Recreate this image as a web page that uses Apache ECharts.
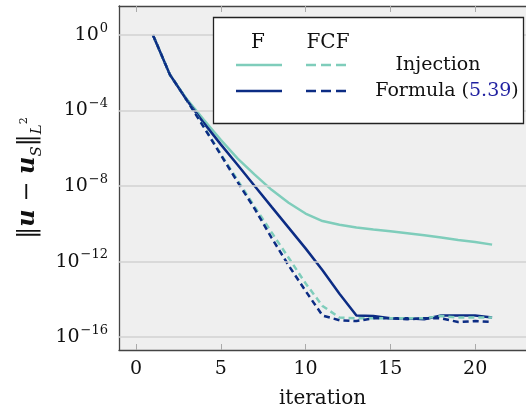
<!DOCTYPE html>
<html><head><meta charset="utf-8">
<script src="https://cdn.jsdelivr.net/npm/echarts@6/dist/echarts.min.js"></script>
<style>html,body{margin:0;padding:0;background:#fff}#c{width:526px;height:414px}</style>
</head><body><div id="c"></div>
<script>
const iterations = [1,2,3,4,5,6,7,8,9,10,11,12,13,14,15,16,17,18,19,20,21];
const injectionF   = [1,7.9e-3,4.0e-4,3.2e-5,2.8e-6,2.8e-7,4.0e-8,6.3e-9,1.3e-9,3.5e-10,1.4e-10,8.9e-11,6.3e-11,5.0e-11,4.0e-11,3.2e-11,2.5e-11,1.9e-11,1.4e-11,1.1e-11,7.9e-12];
const formulaF     = [1,7.9e-3,3.5e-4,2.2e-5,1.6e-6,1.3e-7,1.0e-8,7.9e-10,6.3e-11,5.0e-12,3.5e-13,2.0e-14,1.4e-15,1.3e-15,1.0e-15,1.0e-15,8.9e-16,1.4e-15,1.4e-15,1.4e-15,1.1e-15];
const injectionFCF = [1,7.9e-3,3.5e-4,1.4e-5,5.0e-7,2.0e-8,7.9e-10,3.5e-11,1.6e-12,7.1e-14,4.5e-15,1.1e-15,1.0e-15,1.0e-15,1.0e-15,1.0e-15,1.0e-15,1.3e-15,1.1e-15,1.1e-15,1.1e-15];
const formulaFCF   = [1,7.9e-3,3.5e-4,1.3e-5,4.5e-7,1.6e-8,6.3e-10,1.8e-11,6.3e-13,2.8e-14,1.4e-15,7.9e-16,7.1e-16,1.0e-15,1.0e-15,8.9e-16,1.0e-15,1.0e-15,6.3e-16,7.1e-16,6.3e-16];
const xTicks = [0,5,10,15,20];
const yTickExponents = [0,-4,-8,-12,-16];

const TEAL = '#7fcdbb', NAVY = '#0c2c84';
const FONT = 'DejaVu Serif';
const toPts = vals => iterations.map((x,i)=>[x, Math.log10(vals[i])]);

const chart = echarts.init(document.getElementById('c'), null, {renderer:'canvas'});
const baseX = {
  type:'value', min:-1, max:23,
  axisLine:{show:true, onZero:false, lineStyle:{color:'#444', width:1.3}},
  axisTick:{show:true, inside:true, length:6, customValues:xTicks, lineStyle:{color:'#aaa', width:1}},
  splitLine:{show:false}
};
const lineSeries = (name, vals, color, dashed) => ({
  name, type:'line', data: toPts(vals), showSymbol:false, symbol:'none', z:3,
  lineStyle:{color, width:2.5, type: dashed ? [6,4] : 'solid'}, animation:false
});
chart.setOption({
  animation:false,
  grid:{left:119, top:6, width:415.7, height:346, show:true, backgroundColor:'#efefef', borderWidth:0},
  xAxis:[
    Object.assign({}, baseX, {position:'bottom',
      axisLabel:{customValues:xTicks, margin:10, fontFamily:FONT, fontSize:19, color:'#111'},
      name:'iteration', nameLocation:'middle', nameGap:39,
      nameTextStyle:{fontFamily:FONT, fontSize:20, color:'#111'}}),
    Object.assign({}, baseX, {position:'top', axisLabel:{show:false}})
  ],
  yAxis:{
    type:'value', min:-16.68, max:1.53,
    axisLine:{show:true, onZero:false, lineStyle:{color:'#444', width:1.3}},
    axisTick:{show:false, customValues:yTickExponents},
    splitLine:{show:false},
    axisLabel:{customValues:yTickExponents, margin:11, color:'#111',
      formatter: v => '{b|10}{s|' + (v<0 ? '\u2212'+(-v) : v) + '}',
      rich:{ b:{fontFamily:FONT, fontSize:19, lineHeight:26, color:'#111'},
             s:{fontFamily:FONT, fontSize:13, lineHeight:26, verticalAlign:'top', padding:[0,0,8,1], color:'#111'} }},
    name:'{n|\u2016}{u|u}{n| \u2212 }{u|u}{sub|S}{n|\u2016}{sub|L}{sup|2}',
    nameLocation:'middle', nameGap:74, nameRotate:90,
    nameTextStyle:{ rich:{
      n:{fontFamily:FONT, fontSize:24, color:'#111', lineHeight:34},
      u:{fontFamily:FONT, fontSize:24, fontWeight:'bold', fontStyle:'italic', color:'#111', lineHeight:34},
      sub:{fontFamily:FONT, fontSize:15, fontStyle:'italic', color:'#111', lineHeight:14, verticalAlign:'bottom'},
      sup:{fontFamily:FONT, fontSize:11, color:'#111', lineHeight:12, verticalAlign:'middle', padding:[0,0,6,0]}
    }}
  },
  series:[
    {type:'line', data:[], z:1, silent:true,
      markLine:{silent:true, symbol:['none','none'], label:{show:false}, animation:false,
        lineStyle:{color:'#d2d2d2', width:1.5, type:'solid'},
        data: yTickExponents.map(e=>({yAxis:e}))}},
    lineSeries('Injection F', injectionF, TEAL, false),
    lineSeries('Formula F', formulaF, NAVY, false),
    lineSeries('Injection FCF', injectionFCF, TEAL, true),
    lineSeries('Formula FCF', formulaFCF, NAVY, true)
  ],
  graphic:[
    {type:'rect', z:100, shape:{x:213.5, y:17.5, width:310, height:106}, style:{fill:'#fff', stroke:'#222', lineWidth:1.3}},
    {type:'text', z:101, x:258, y:43, style:{text:'F', font:'20px "DejaVu Serif"', fill:'#111', align:'center', verticalAlign:'middle'}},
    {type:'text', z:101, x:328, y:43, style:{text:'FCF', font:'20px "DejaVu Serif"', fill:'#111', align:'center', verticalAlign:'middle'}},
    {type:'line', z:101, shape:{x1:236, y1:65, x2:282, y2:65}, style:{stroke:TEAL, lineWidth:2.5}},
    {type:'line', z:101, shape:{x1:306, y1:65, x2:346, y2:65}, style:{stroke:TEAL, lineWidth:2.5, lineDash:[10,5]}},
    {type:'line', z:101, shape:{x1:236, y1:91, x2:282, y2:91}, style:{stroke:NAVY, lineWidth:2.5}},
    {type:'line', z:101, shape:{x1:306, y1:91, x2:346, y2:91}, style:{stroke:NAVY, lineWidth:2.5, lineDash:[10,5]}},
    {type:'text', z:101, x:438, y:65, style:{text:'Injection', font:'19px "DejaVu Serif"', fill:'#111', align:'center', verticalAlign:'middle'}},
    {type:'text', z:101, x:447, y:91, style:{text:'{a|Formula (}{b|5.39}{a|)}', align:'center', verticalAlign:'middle',
      rich:{a:{fontFamily:FONT, fontSize:19, fill:'#111'}, b:{fontFamily:FONT, fontSize:19, fill:'#1f1fa0'}}}}
  ]
});
</script></body></html>
